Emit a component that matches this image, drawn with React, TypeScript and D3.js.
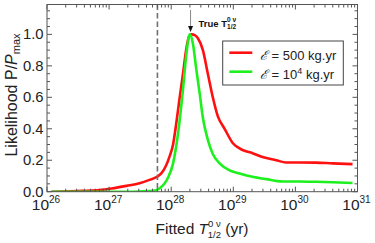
import * as d3 from 'd3';

// log10 of fitted half-life, and likelihood P/Pmax
const redLogT = [26.07, 26.58, 26.85, 27.04, 27.28, 27.49, 27.65, 27.76, 27.84, 27.91, 27.97, 28.03, 28.08, 28.13, 28.19, 28.24, 28.29, 28.33, 28.38, 28.43, 28.51, 28.59, 28.67, 28.75, 28.86, 28.99, 29.15, 29.31, 29.47, 29.69, 29.85, 30.06, 30.33, 30.6, 30.92];
const redP = [0, 0.005, 0.01, 0.02, 0.037, 0.054, 0.075, 0.092, 0.116, 0.16, 0.22, 0.3, 0.43, 0.58, 0.75, 0.9, 0.99, 1.0, 0.995, 0.975, 0.9, 0.75, 0.6, 0.48, 0.4, 0.31, 0.265, 0.245, 0.22, 0.2, 0.186, 0.186, 0.185, 0.18, 0.175];
const greenLogT = [26.07, 27.0, 27.39, 27.71, 27.81, 27.89, 27.95, 28.03, 28.11, 28.19, 28.24, 28.3, 28.35, 28.4, 28.46, 28.51, 28.59, 28.67, 28.78, 28.94, 29.1, 29.31, 29.53, 29.79, 30.06, 30.33, 30.6, 30.92];
const greenP = [0, 0, 0, 0.005, 0.02, 0.05, 0.09, 0.18, 0.37, 0.65, 0.86, 1.0, 0.94, 0.79, 0.62, 0.47, 0.33, 0.24, 0.18, 0.135, 0.116, 0.095, 0.08, 0.065, 0.065, 0.063, 0.06, 0.055];

const xDecades = [26, 27, 28, 29, 30, 31];
const yTicks = [0, 0.2, 0.4, 0.6, 0.8, 1.0];
const trueT = 2.05e28;
const thresholdT = 6.0e27;

const W = 375, H = 243;
const left = 47, right = 357.5, top = 4.5, bottom = 191.7;
const font = "'Liberation Sans', Arial, sans-serif";
const frameColor = '#555';

export default function App() {
  const x = d3.scaleLog().domain([1e26, 1e31]).range([left, right]);
  const y = d3.scaleLinear().domain([0, 1.19]).range([bottom, top]);

  const line = d3.line<[number, number]>()
    .x(d => x(Math.pow(10, d[0])))
    .y(d => y(d[1]))
    .curve(d3.curveMonotoneX);

  const red = line(redLogT.map((t, i) => [t, redP[i]] as [number, number])) || '';
  const green = line(greenLogT.map((t, i) => [t, greenP[i]] as [number, number])) || '';

  const minorX: number[] = [];
  for (let e = 26; e < 31; e++) for (let k = 2; k <= 9; k++) minorX.push(k * Math.pow(10, e));
  const minorY: number[] = [];
  for (let v = 0.05; v < 1.19; v += 0.05) if (Math.abs(v * 5 - Math.round(v * 5)) > 1e-6) minorY.push(v);

  const ax = x(trueT);

  return (
    <svg width={W} height={H} style={{ position: 'absolute', left: 0, top: 0 }} fontFamily={font}>
      <rect x={0} y={0} width={W} height={H} fill="#fff" />
      <defs>
        <clipPath id="clip"><rect x={left} y={top} width={right - left} height={bottom - top} /></clipPath>
      </defs>
      {/* curves */}
      <g clipPath="url(#clip)">
        <path d={red} fill="none" stroke="#ff1010" strokeWidth={2.6} />
        <path d={green} fill="none" stroke="#1ef01e" strokeWidth={2.6} />
      </g>
      {/* threshold dashed line */}
      <line x1={x(thresholdT)} x2={x(thresholdT)} y1={top} y2={bottom} stroke="#707070" strokeWidth={1.6} strokeDasharray="5.5,3" />
      {/* frame */}
      <rect x={left} y={top} width={right - left} height={bottom - top} fill="none" stroke={frameColor} strokeWidth={1} />
      {/* x ticks */}
      {xDecades.map(e => {
        const px = x(Math.pow(10, e));
        return (
          <g key={'xd' + e}>
            <line x1={px} x2={px} y1={bottom} y2={bottom - 5} stroke={frameColor} />
            <line x1={px} x2={px} y1={top} y2={top + 5} stroke={frameColor} />
            <text x={px - 1} y={209.5} fontSize={15.5} textAnchor="middle" fill="#222">
              10<tspan fontSize={10} dy={-7}>{e}</tspan>
            </text>
          </g>
        );
      })}
      {minorX.map((v, i) => {
        const px = x(v);
        return (
          <g key={'xm' + i}>
            <line x1={px} x2={px} y1={bottom} y2={bottom - 3} stroke={frameColor} />
            <line x1={px} x2={px} y1={top} y2={top + 3} stroke={frameColor} />
          </g>
        );
      })}
      {/* y ticks */}
      {yTicks.map(v => (
        <g key={'yt' + v}>
          <line x1={left} x2={left + 5} y1={y(v)} y2={y(v)} stroke={frameColor} />
          <line x1={right} x2={right - 5} y1={y(v)} y2={y(v)} stroke={frameColor} />
          <text x={43.5} y={y(v) + 5} fontSize={14.8} textAnchor="end" fill="#222">{v.toFixed(1)}</text>
        </g>
      ))}
      {minorY.map((v, i) => (
        <g key={'ym' + i}>
          <line x1={left} x2={left + 3} y1={y(v)} y2={y(v)} stroke={frameColor} />
          <line x1={right} x2={right - 3} y1={y(v)} y2={y(v)} stroke={frameColor} />
        </g>
      ))}
      {/* arrow for true T */}
      <line x1={ax} x2={ax} y1={10} y2={27} stroke="#888" strokeWidth={1} />
      <path d={`M${ax - 2.5},${26} L${ax + 2.5},${26} L${ax},${32} Z`} fill="#111" />
      <text x={198.5} y={26.5} fontSize={9.5} fontWeight="bold" fill="#111">
        True T<tspan fontSize={6.5} dy={-4.5}>0 ν</tspan><tspan fontSize={6.5} dx={-9} dy={7}>1/2</tspan>
      </text>
      {/* legend */}
      <rect x={222.7} y={41} width={120.6} height={44} fill="#fff" stroke="#444" strokeWidth={1} />
      <line x1={229.3} x2={252.3} y1={52.7} y2={52.7} stroke="#ff1010" strokeWidth={2.6} />
      <line x1={229.3} x2={252.3} y1={71.7} y2={71.7} stroke="#1ef01e" strokeWidth={2.6} />
      <text x={260} y={59.5} fontSize={13} fill="#222">
        <tspan fontStyle="italic">ℰ</tspan> = 500 kg.yr
      </text>
      <text x={260} y={78.5} fontSize={13} fill="#222">
        <tspan fontStyle="italic">ℰ</tspan> = 10<tspan fontSize={9} dy={-5}>4</tspan><tspan dy={5}> kg.yr</tspan>
      </text>
      {/* axis labels */}
      <text x={202} y={234} fontSize={15.5} textAnchor="middle" fill="#222">
        Fitted <tspan fontStyle="italic">T</tspan><tspan fontSize={9.5} dy={-7}>0 ν</tspan><tspan fontSize={9.5} dx={-13} dy={10.5}>1/2</tspan><tspan dy={-3.5}> (yr)</tspan>
      </text>
      <text transform={`translate(16.5,95) rotate(-90)`} fontSize={16} textAnchor="middle" fill="#222">
        Likelihood P/<tspan fontStyle="italic">P</tspan><tspan fontSize={11} dy={3}>max</tspan>
      </text>
    </svg>
  );
}
